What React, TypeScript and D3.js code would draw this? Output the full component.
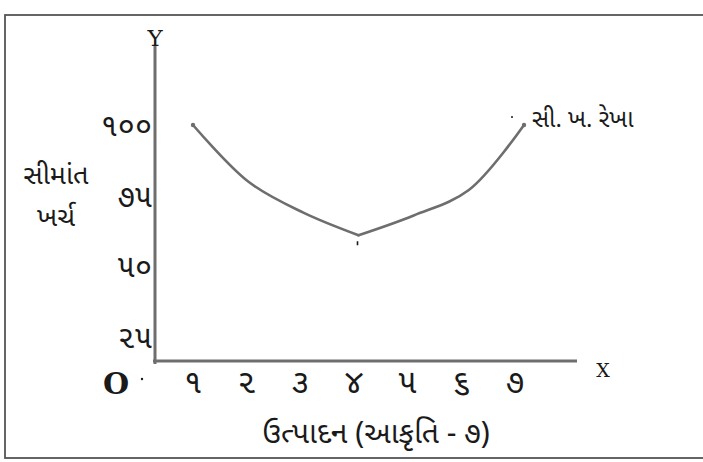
import { useEffect, useRef } from "react";
import * as d3 from 'd3'

// output units 1..7 and the marginal cost
const units = [1, 2, 3, 4, 5, 6, 7]
const unitLabels = ['૧', '૨', '૩', '૪', '૫', '૬', '૭']
const marginalCost = [100, 80, 69, 61, 68, 77, 100]
const costTicks = [25, 50, 75, 100]
const costTickLabels = ['૨૫', '૫૦', '૭૫', '૧૦૦']

const guj = "'Noto Sans Gujarati', 'Noto Serif Gujarati', 'Lohit Gujarati', 'Noto Sans', sans-serif"
const ink = '#1a1a1a'
const lineGray = '#6e6e6e'

function drawChart(svgRef: any) {
    const svg = d3.select(svgRef.current)
    svg.selectAll('*').remove()

    const x = d3.scaleLinear().domain([1, 7]).range([193, 524])
    const y = d3.scaleLinear().domain([25, 100]).range([337, 125])

    const originX = 155
    const originY = 361

    // frame
    svg.append('rect')
        .attr('x', 5).attr('y', 15)
        .attr('width', 720).attr('height', 443)
        .attr('fill', 'none')
        .attr('stroke', '#555')
        .attr('stroke-width', 1.8)

    // axes
    svg.append('line')
        .attr('x1', originX).attr('x2', originX)
        .attr('y1', 45).attr('y2', originY + 3)
        .attr('stroke', lineGray).attr('stroke-width', 3)
    svg.append('line')
        .attr('x1', originX - 2).attr('x2', 577)
        .attr('y1', originY).attr('y2', originY)
        .attr('stroke', lineGray).attr('stroke-width', 3)

    svg.append('text')
        .attr('x', originX).attr('y', 46)
        .attr('text-anchor', 'middle')
        .attr('font-family', 'DejaVu Serif, serif')
        .attr('font-size', 23)
        .attr('fill', ink)
        .text('Y')
    svg.append('text')
        .attr('x', 603).attr('y', 377)
        .attr('text-anchor', 'middle')
        .attr('font-family', 'DejaVu Serif, serif')
        .attr('font-size', 19)
        .attr('fill', ink)
        .text('X')
    svg.append('text')
        .attr('x', 116).attr('y', 394)
        .attr('text-anchor', 'middle')
        .attr('font-family', 'DejaVu Serif, serif')
        .attr('font-weight', 'bold')
        .attr('font-size', 30)
        .attr('fill', ink)
        .text('O')
    svg.append('circle')
        .attr('cx', 142).attr('cy', 379).attr('r', 1.2)
        .attr('fill', ink)

    // y tick labels
    svg.selectAll('text.ytick')
        .data(costTicks)
        .join('text')
        .attr('class', 'ytick')
        .attr('x', originX - 3)
        .attr('y', (d: number) => y(d))
        .attr('dy', '0.35em')
        .attr('text-anchor', 'end')
        .attr('font-family', guj)
        .attr('font-size', 31)
        .attr('fill', ink)
        .text((d: number, i: number) => costTickLabels[i])

    // x tick labels
    svg.selectAll('text.xtick')
        .data(units)
        .join('text')
        .attr('class', 'xtick')
        .attr('x', (d: number) => x(d) - (d - 1) * 1.5)
        .attr('y', 381)
        .attr('dy', '0.35em')
        .attr('text-anchor', 'middle')
        .attr('font-family', guj)
        .attr('font-size', 33)
        .attr('fill', ink)
        .text((d: number, i: number) => unitLabels[i])

    // axis titles
    svg.append('text')
        .attr('x', 56).attr('y', 184)
        .attr('text-anchor', 'middle')
        .attr('font-family', guj)
        .attr('font-size', 27)
        .attr('fill', ink)
        .text('સીમાંત')
    svg.append('text')
        .attr('x', 56).attr('y', 226)
        .attr('text-anchor', 'middle')
        .attr('font-family', guj)
        .attr('font-size', 27)
        .attr('fill', ink)
        .text('ખર્ચ')
    svg.append('text')
        .attr('x', 376).attr('y', 443)
        .attr('text-anchor', 'middle')
        .attr('font-family', guj)
        .attr('font-size', 30)
        .attr('fill', ink)
        .text('ઉત્પાદન (આકૃતિ - ૭)')

    // MC curve, two branches meeting in a point at the minimum
    const pts = units.map((u, i) => [x(u), y(marginalCost[i])] as [number, number])
    const myLine = d3.line().curve(d3.curveCatmullRom.alpha(0.5))
    const low = d3.minIndex(marginalCost)
    svg.selectAll('path.mc')
        .data([pts.slice(0, low + 1), pts.slice(low)])
        .join('path')
        .attr('class', 'mc')
        .attr('d', (d: any) => myLine(d))
        .attr('fill', 'none')
        .attr('stroke', lineGray)
        .attr('stroke-width', 2.6)
        .attr('stroke-linecap', 'round')
        .attr('stroke-linejoin', 'round')

    svg.selectAll('circle.end')
        .data([pts[0], pts[pts.length - 1]])
        .join('circle')
        .attr('class', 'end')
        .attr('cx', (d: any) => d[0])
        .attr('cy', (d: any) => d[1])
        .attr('r', 2.2)
        .attr('fill', lineGray)

    // small mark under the lowest point
    svg.append('line')
        .attr('x1', pts[low][0] - 1).attr('x2', pts[low][0] - 1)
        .attr('y1', pts[low][1] + 6).attr('y2', pts[low][1] + 10)
        .attr('stroke', ink).attr('stroke-width', 1.6)

    svg.append('circle')
        .attr('cx', 512).attr('cy', 117).attr('r', 1)
        .attr('fill', ink)
    svg.append('text')
        .attr('x', 532).attr('y', 127)
        .attr('font-family', guj)
        .attr('font-size', 24)
        .attr('fill', ink)
        .text('સી. ખ. રેખા')
}

export default function App() {
    const svgRef = useRef<SVGSVGElement>(null)
    useEffect(() => {
        drawChart(svgRef)
    }, [])
    return (
        <svg
            ref={svgRef}
            width={703}
            height={462}
            style={{ position: 'fixed', left: 0, top: 0, background: '#fff' }}
        />
    )
}
